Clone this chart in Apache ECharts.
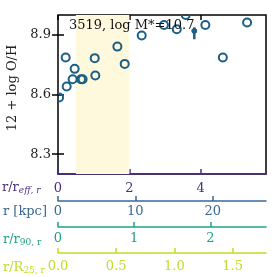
<!DOCTYPE html>
<html>
<head>
<meta charset="utf-8">
<script src="https://cdn.jsdelivr.net/npm/echarts@6/dist/echarts.min.js"></script>
<style>html,body{margin:0;padding:0;background:#fff}#c{width:277px;height:277px}</style>
</head>
<body>
<div id="c"></div>
<script>
// r / r_eff,r
var xVals = [0.03, 0.215, 0.243, 0.467, 0.41, 0.645, 0.69, 1.03, 1.046, 1.664, 1.87, 2.346, 2.97, 3.33, 3.58, 4.13, 4.62, 5.30];
// 12 + log O/H
var yVals = [8.585, 8.786, 8.64, 8.729, 8.677, 8.677, 8.677, 8.783, 8.696, 8.841, 8.754, 8.897, 8.95, 8.928, 9.0, 8.95, 8.786, 8.962];
// point with error bar
var errX = [3.82];
var errY = [8.92];
var errLo = [8.878];
var errHi = [8.938];
var bandRange = [0.5, 2.0];
var yTicks = [8.3, 8.6, 8.9];
var reffTicks = [0, 2, 4];
var kpcTicks = [0, 10, 20];
var r90Ticks = [0, 1, 2];
var r25Ticks = [0.0, 0.5, 1.0, 1.5];
var reffMax = 5.83, kpcMax = 26.9, r90Max = 2.73, r25Max = 1.787;
var yMin = 8.2, yMax = 9.0;
var title = '3519, log M*=10.7';

var F = 'DejaVu Serif';
var cPurple = '#4b2f80', cBlue = '#3a6896', cTeal = '#22a384', cYel = '#c3db2a', cMark = '#1b5f87';

function subAxis(idx, max, ticks, color, offset, margin, dec) {
  return {
    type: 'value', gridIndex: 0, position: 'bottom', offset: offset,
    min: 0, max: max,
    axisLine: {show: true, onZero: false, lineStyle: {color: color, width: 1.5}},
    axisTick: {show: true, inside: true, length: 5, customValues: ticks, lineStyle: {color: color, width: 1.5}},
    axisLabel: {show: true, customValues: ticks, margin: margin, color: color, fontFamily: F, fontSize: 13,
      formatter: function (v) { return dec ? v.toFixed(1) : String(v); }},
    splitLine: {show: false}
  };
}

var chart = echarts.init(document.getElementById('c'), null, {renderer: 'canvas'});
var pts = xVals.map(function (x, i) { return [x, yVals[i]]; });
var errPts = errX.map(function (x, i) { return [x, errY[i], errLo[i], errHi[i]]; });

chart.setOption({
  animation: false,
  grid: {left: 58, right: 11, top: 15, height: 159, show: true, borderColor: '#000', borderWidth: 1.5, backgroundColor: 'transparent'},
  xAxis: [
    subAxis(0, reffMax, reffTicks, cPurple, 0, 8, false),
    {type: 'value', position: 'top', min: 0, max: reffMax,
     axisLine: {show: false}, axisLabel: {show: false}, splitLine: {show: false},
     axisTick: {show: true, inside: true, length: 5, customValues: reffTicks, lineStyle: {color: '#000', width: 1.5}}},
    subAxis(2, kpcMax, kpcTicks, cBlue, 27, 4, false),
    subAxis(3, r90Max, r90Ticks, cTeal, 53, 5, false),
    subAxis(4, r25Max, r25Ticks, cYel, 79, 7, true)
  ],
  yAxis: [
    {type: 'value', min: yMin, max: yMax, position: 'left',
     axisLine: {show: false}, splitLine: {show: false},
     axisTick: {show: true, inside: true, length: 6, customValues: yTicks, lineStyle: {color: '#000', width: 1.5}},
     axisLabel: {customValues: yTicks, margin: 7, color: '#222', fontFamily: F, fontSize: 13,
       formatter: function (v) { return v.toFixed(1); }}},
    {type: 'value', min: yMin, max: yMax, position: 'right',
     axisLine: {show: false}, splitLine: {show: false}, axisLabel: {show: false},
     axisTick: {show: true, inside: true, length: 6, customValues: yTicks, lineStyle: {color: '#000', width: 1.5}}}
  ],
  series: [
    {
      type: 'custom', xAxisIndex: 0, yAxisIndex: 0, clip: true, z: 3,
      data: pts,
      renderItem: function (params, api) {
        var p = api.coord([api.value(0), api.value(1)]);
        return {type: 'circle', shape: {cx: p[0], cy: p[1], r: 4}, style: {fill: 'none', stroke: cMark, lineWidth: 2}};
      },
      markArea: {silent: true, itemStyle: {color: '#fef8dc'}, data: [[{xAxis: bandRange[0]}, {xAxis: bandRange[1]}]]}
    },
    {
      type: 'custom', xAxisIndex: 0, yAxisIndex: 0, clip: true, z: 3,
      data: errPts,
      renderItem: function (params, api) {
        var p = api.coord([api.value(0), api.value(1)]);
        var lo = api.coord([api.value(0), api.value(2)]);
        var hi = api.coord([api.value(0), api.value(3)]);
        return {type: 'group', children: [
          {type: 'line', shape: {x1: lo[0], y1: lo[1], x2: hi[0], y2: hi[1]}, style: {stroke: cMark, lineWidth: 2.5}},
          {type: 'circle', shape: {cx: p[0], cy: p[1], r: 2.5}, style: {fill: cMark, stroke: cMark, lineWidth: 1}}
        ]};
      }
    }
  ],
  graphic: [
    {type: 'text', left: 69, top: 19, z: 10, style: {text: title, font: '13px "DejaVu Serif"', fill: '#111'}},
    {type: 'text', x: 13, y: 88, rotation: Math.PI / 2, z: 10,
     style: {text: '12 + log O/H', font: '13px "DejaVu Serif"', fill: '#222', align: 'center', verticalAlign: 'middle'}},
    {type: 'text', x: 2, y: 188, z: 10, style: {text: '{a|r/r}{s|eff, r}', verticalAlign: 'middle', fill: cPurple,
      rich: {a: {fontFamily: F, fontSize: 13, fill: cPurple}, s: {fontFamily: F, fontStyle: 'italic', fontSize: 9, fill: cPurple, verticalAlign: 'bottom', padding: [5, 0, 0, 0]}}}},
    {type: 'text', x: 3, y: 212, z: 10, style: {text: 'r [kpc]', font: '13px "DejaVu Serif"', fill: cBlue, verticalAlign: 'middle'}},
    {type: 'text', x: 3, y: 240, z: 10, style: {text: '{a|r/r}{s|90, r}', verticalAlign: 'middle', fill: cTeal,
      rich: {a: {fontFamily: F, fontSize: 13, fill: cTeal}, s: {fontFamily: F, fontSize: 9, fill: cTeal, padding: [5, 0, 0, 0]}}}},
    {type: 'text', x: 3, y: 268, z: 10, style: {text: '{a|r/R}{s|25, r}', verticalAlign: 'middle', fill: cYel,
      rich: {a: {fontFamily: F, fontSize: 13, fill: cYel}, s: {fontFamily: F, fontSize: 9, fill: cYel, padding: [5, 0, 0, 0]}}}}
  ]
});
</script>
</body>
</html>
